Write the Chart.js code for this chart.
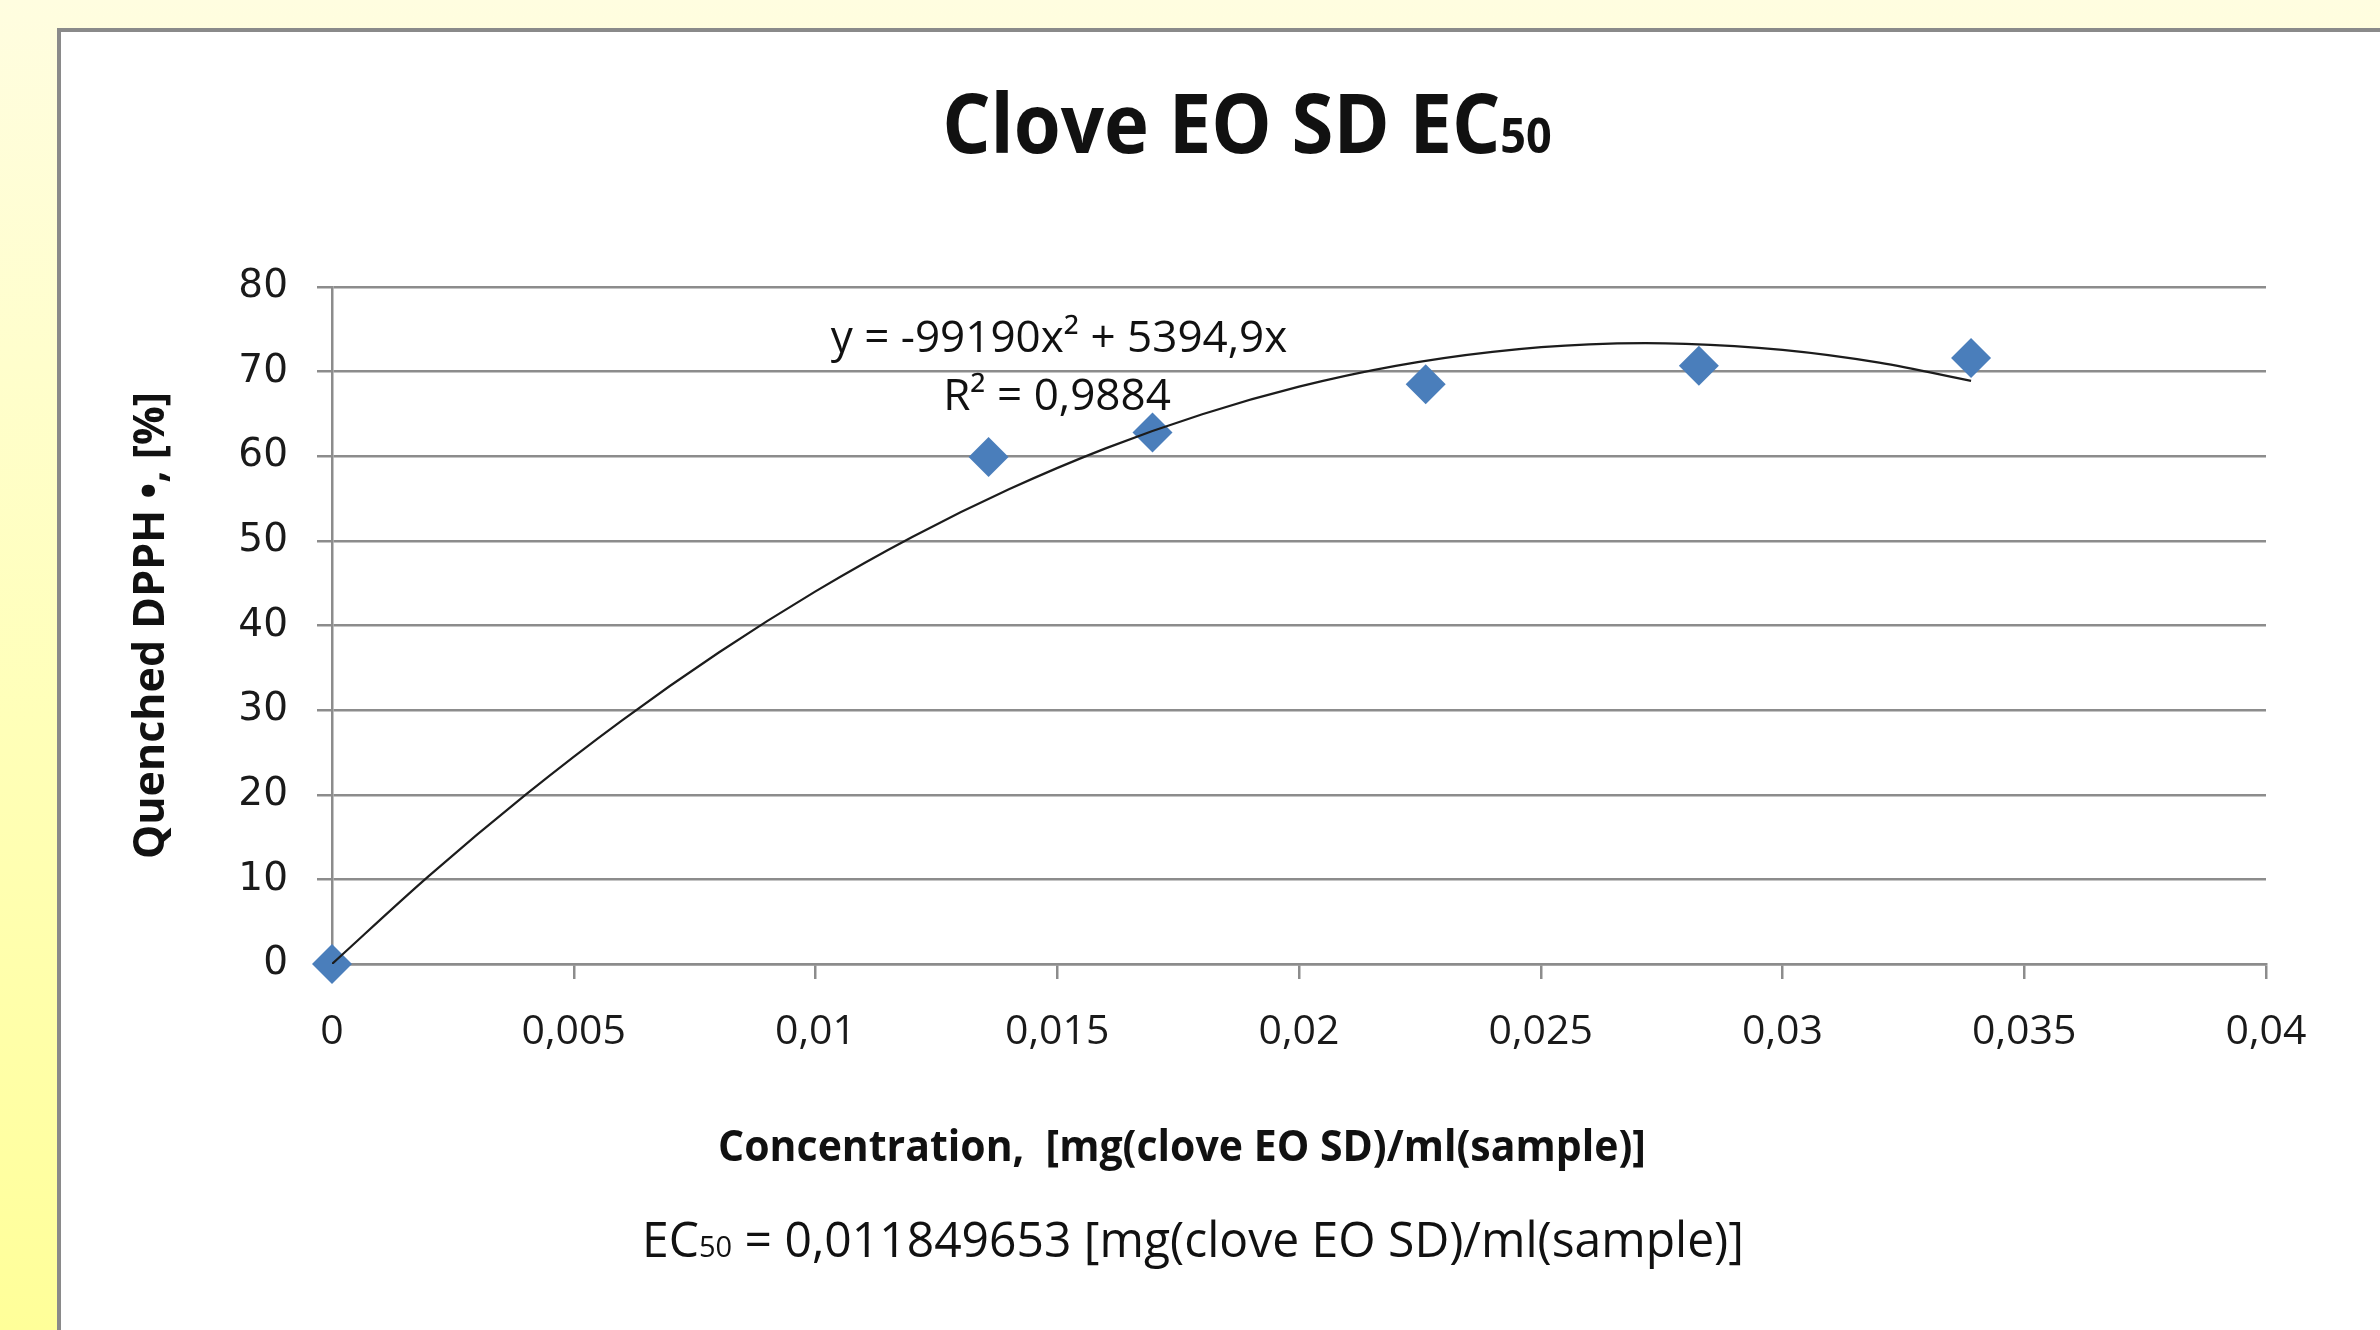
<!DOCTYPE html>
<html>
<head>
<meta charset="utf-8">
<script src="https://cdn.jsdelivr.net/npm/chart.js@4.4.1/dist/chart.umd.min.js"></script>
<style>
  html, body { margin: 0; padding: 0; }
  body {
    width: 2380px; height: 1330px; overflow: hidden; position: relative;
    background: linear-gradient(to bottom, #fffde0 0%, #ffffb8 55%, #ffff99 100%);
  }
  #sheet {
    position: absolute; left: 57px; top: 28px; width: 2400px; height: 1400px;
    background: #fff; border-top: 4px solid #8a8a8a; border-left: 4px solid #8a8a8a;
  }
  #wrap { position: absolute; left: 0; top: 0; width: 2380px; height: 1330px; }
</style>
</head>
<body>
<div id="sheet"></div>
<div id="wrap"><canvas id="chart" width="2380" height="1330"></canvas></div>
<script>
// measured points
const concentration = [0, 0.01358, 0.01697, 0.02262, 0.02827, 0.0339];
const quenched      = [0, 59.9, 62.8, 68.5, 70.7, 71.6];

// polynomial trendline as it sits on the picture
const trendX = [0, 0.002, 0.004, 0.006, 0.008, 0.010, 0.012, 0.014, 0.016, 0.018,
                0.020, 0.022, 0.024, 0.026, 0.028, 0.030, 0.032, 0.0339];
const trendY = [0, 10.39, 19.99, 28.80, 36.81, 44.03, 50.46, 56.09, 60.93, 64.97,
                68.22, 70.68, 72.34, 73.22, 73.29, 72.58, 71.07, 68.90];

const xTicks      = [0, 0.005, 0.01, 0.015, 0.02, 0.025, 0.03, 0.035, 0.04];
const xTickLabels = ["0", "0,005", "0,01", "0,015", "0,02", "0,025", "0,03", "0,035", "0,04"];
const yTicks      = [0, 10, 20, 30, 40, 50, 60, 70, 80];

const eqLine1 = "y = -99190x\u00b2 + 5394,9x";
const eqLine2 = "R\u00b2 = 0,9884";
const xTitle  = "Concentration,  [mg(clove EO SD)/ml(sample)]";
const yTitle  = "Quenched DPPH \u2022, [%]";
const ecText  = " = 0,011849653 [mg(clove EO SD)/ml(sample)]";

const FONT = '"Open Sans", "Noto Sans", sans-serif';
const grey = "#8c8c8c";

// draws a row of text pieces centred on cx, optionally stretched vertically
function textRow(ctx, parts, cx, baseline, sy) {
  let total = 0;
  parts.forEach(p => { ctx.font = p.font; p.w = ctx.measureText(p.t).width; total += p.w; });
  let x = cx - total / 2;
  ctx.save();
  ctx.translate(0, baseline);
  ctx.scale(1, sy || 1);
  ctx.textBaseline = "alphabetic";
  ctx.textAlign = "left";
  ctx.fillStyle = "#111";
  parts.forEach(p => { ctx.font = p.font; ctx.fillText(p.t, x, 0); x += p.w; });
  ctx.restore();
}

const texts = {
  id: "texts",
  afterDraw(chart) {
    const ctx = chart.ctx;
    textRow(ctx, [
      { t: "Clove EO SD EC", font: "bold 76px " + FONT },
      { t: "50", font: "bold 45px " + FONT }
    ], 1247, 153, 1.08);
    textRow(ctx, [{ t: eqLine1, font: "44px " + FONT }], 1059, 352);
    textRow(ctx, [{ t: eqLine2, font: "44px " + FONT }], 1057, 410);
    textRow(ctx, [{ t: xTitle, font: "bold 41px " + FONT }], 1182, 1161, 1.05);
    textRow(ctx, [
      { t: "EC", font: "48px " + FONT },
      { t: "50", font: "29px " + FONT },
      { t: ecText, font: "48px " + FONT }
    ], 1193, 1257, 1.02);
  }
};

new Chart(document.getElementById("chart"), {
  type: "scatter",
  plugins: [texts],
  data: {
    datasets: [
      {
        label: "trend",
        data: trendX.map((x, i) => ({ x, y: trendY[i] })),
        showLine: true,
        tension: 0.35,
        borderColor: "#1c1c1c",
        borderWidth: 2.2,
        pointRadius: 0
      },
      {
        label: "Quenched DPPH",
        data: concentration.map((x, i) => ({ x, y: quenched[i] })),
        pointStyle: "rectRot",
        pointRadius: 20,
        pointBackgroundColor: "#4a7ebb",
        pointBorderWidth: 0,
        clip: false
      }
    ]
  },
  options: {
    responsive: false,
    animation: false,
    layout: { padding: { left: 100, right: 114, top: 287, bottom: 266 } },
    plugins: { legend: { display: false }, tooltip: { enabled: false } },
    scales: {
      x: {
        type: "linear", min: 0, max: 0.04,
        afterBuildTicks: s => { s.ticks = xTicks.map(v => ({ value: v })); },
        afterFit: s => { s.height = 100; },
        grid: { drawOnChartArea: false, color: grey, lineWidth: 2.5, tickLength: 15 },
        border: { color: grey, width: 2.5 },
        ticks: {
          padding: 29, color: "#1a1a1a", maxRotation: 0,
          font: { family: FONT, size: 41 },
          callback: (v, i) => xTickLabels[i]
        }
      },
      y: {
        min: 0, max: 80,
        afterBuildTicks: s => { s.ticks = yTicks.map(v => ({ value: v })); },
        afterFit: s => { s.width = 232; },
        grid: { color: grey, lineWidth: 2.5, tickLength: 15 },
        border: { color: grey, width: 2.5 },
        ticks: {
          padding: 29, color: "#1a1a1a",
          font: { family: '"DejaVu Sans", sans-serif', size: 39 }
        },
        title: {
          display: true, text: yTitle, color: "#111",
          font: { family: FONT, size: 43, weight: "bold" },
          padding: { top: 26 }
        }
      }
    }
  }
});
</script>
</body>
</html>
